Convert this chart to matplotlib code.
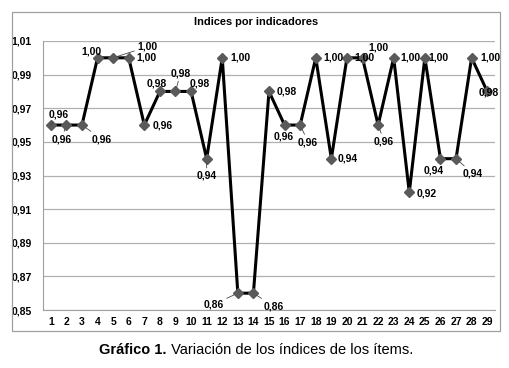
import matplotlib
matplotlib.use("Agg")
import matplotlib.pyplot as plt
from matplotlib.patches import Rectangle

items = list(range(1, 30))
values = [0.96, 0.96, 0.96, 1.00, 1.00, 1.00, 0.96, 0.98, 0.98, 0.98,
          0.94, 1.00, 0.86, 0.86, 0.98, 0.96, 0.96, 1.00, 0.94, 1.00,
          1.00, 0.96, 1.00, 0.92, 1.00, 0.94, 0.94, 1.00, 0.98]
yticks = [0.85, 0.87, 0.89, 0.91, 0.93, 0.95, 0.97, 0.99, 1.01]
title = "Indices por indicadores"
caption_bold = "Gráfico 1."
caption_rest = " Variación de los índices de los ítems."

# label offsets in pixels (dx, dy), leader flag
offsets = {
    1: (8, 11, True), 2: (-5, -14, True), 3: (20, -14, True), 4: (-6, 6, False),
    5: (34, 11, True), 6: (18, 0, False), 7: (18, 0, False), 8: (-3, 8, False),
    9: (5, 18, True), 10: (9, 8, False), 11: (0, -17, True), 12: (18, 0, False),
    13: (-24, -11, True), 14: (20, -13, True), 15: (18, 0, False), 16: (-1, -11, False),
    17: (8, -17, True), 18: (18, 0, False), 19: (16, 0, False), 20: (18, 0, False),
    21: (16, 10, False), 22: (6, -16, True), 23: (17, 0, False), 24: (17, -1, False),
    25: (14, 0, False), 26: (-7, -12, True), 27: (17, -15, True), 28: (19, 0, False),
    29: (2, -1, False),
}

plt.rcParams['font.family'] = ['Liberation Sans', 'DejaVu Sans']
fig = plt.figure(figsize=(5.09, 3.68), dpi=100)
W, H = 509, 368
fig.patches.append(Rectangle((12 / W, 1 - 331 / H), 488 / W, 319 / H,
                             transform=fig.transFigure, fill=False,
                             edgecolor='#a0a0a0', linewidth=0.9))
ax = fig.add_axes([43 / W, 1 - 310 / H, 452 / W, 269 / H])
ax.set_xlim(0.5, 29.5)
ax.set_ylim(0.85, 1.01)
ax.set_yticks(yticks)
ax.set_yticklabels([f"{v:.2f}".replace('.', ',') for v in yticks])
ax.set_xticks(items)
ax.set_xticklabels([str(i) for i in items])
ax.grid(axis='y', color='#b0b0b0', linewidth=0.9)
ax.set_axisbelow(True)
for s in ['top', 'right']:
    ax.spines[s].set_visible(False)
ax.spines['left'].set_color('#a0a0a0')
ax.spines['bottom'].set_color('#a0a0a0')
ax.tick_params(length=0, labelsize=7.5)
ax.tick_params(axis='x', pad=5)
ax.tick_params(axis='y', pad=8)
for lab in ax.get_xticklabels() + ax.get_yticklabels():
    lab.set_fontweight('bold')

ax.plot(items, values, color='black', linewidth=2.2, zorder=3,
        marker='D', markersize=5, markerfacecolor='#5a5a5a', markeredgecolor='#5a5a5a')

for x, v in zip(items, values):
    dx, dy, lead = offsets[x]
    ax.annotate(f"{v:.2f}".replace('.', ','), xy=(x, v), xytext=(dx, dy),
                textcoords='offset pixels', ha='center', va='center',
                fontsize=7.5, fontweight='bold', zorder=5,
                arrowprops=dict(arrowstyle='-', color='#444444', lw=0.6,
                                shrinkA=0, shrinkB=3) if lead else None)

fig.text(256 / W, 1 - 22 / H, title, ha='center', va='center',
         fontsize=7.9, fontweight='bold')

fig.canvas.draw()
t1 = fig.text(100 / W, 1 - 350 / H, caption_bold, ha='left', va='center',
              fontsize=10.5, fontweight='bold')
t2 = fig.text(0, 1 - 350 / H, caption_rest, ha='left', va='center', fontsize=10.5)
r = fig.canvas.get_renderer()
w1 = t1.get_window_extent(r).width
w2 = t2.get_window_extent(r).width
start = (256 - (w1 + w2) / 2)
t1.set_x(start / W)
t2.set_x((start + w1) / W)

fig.savefig("out.png", dpi=100)
